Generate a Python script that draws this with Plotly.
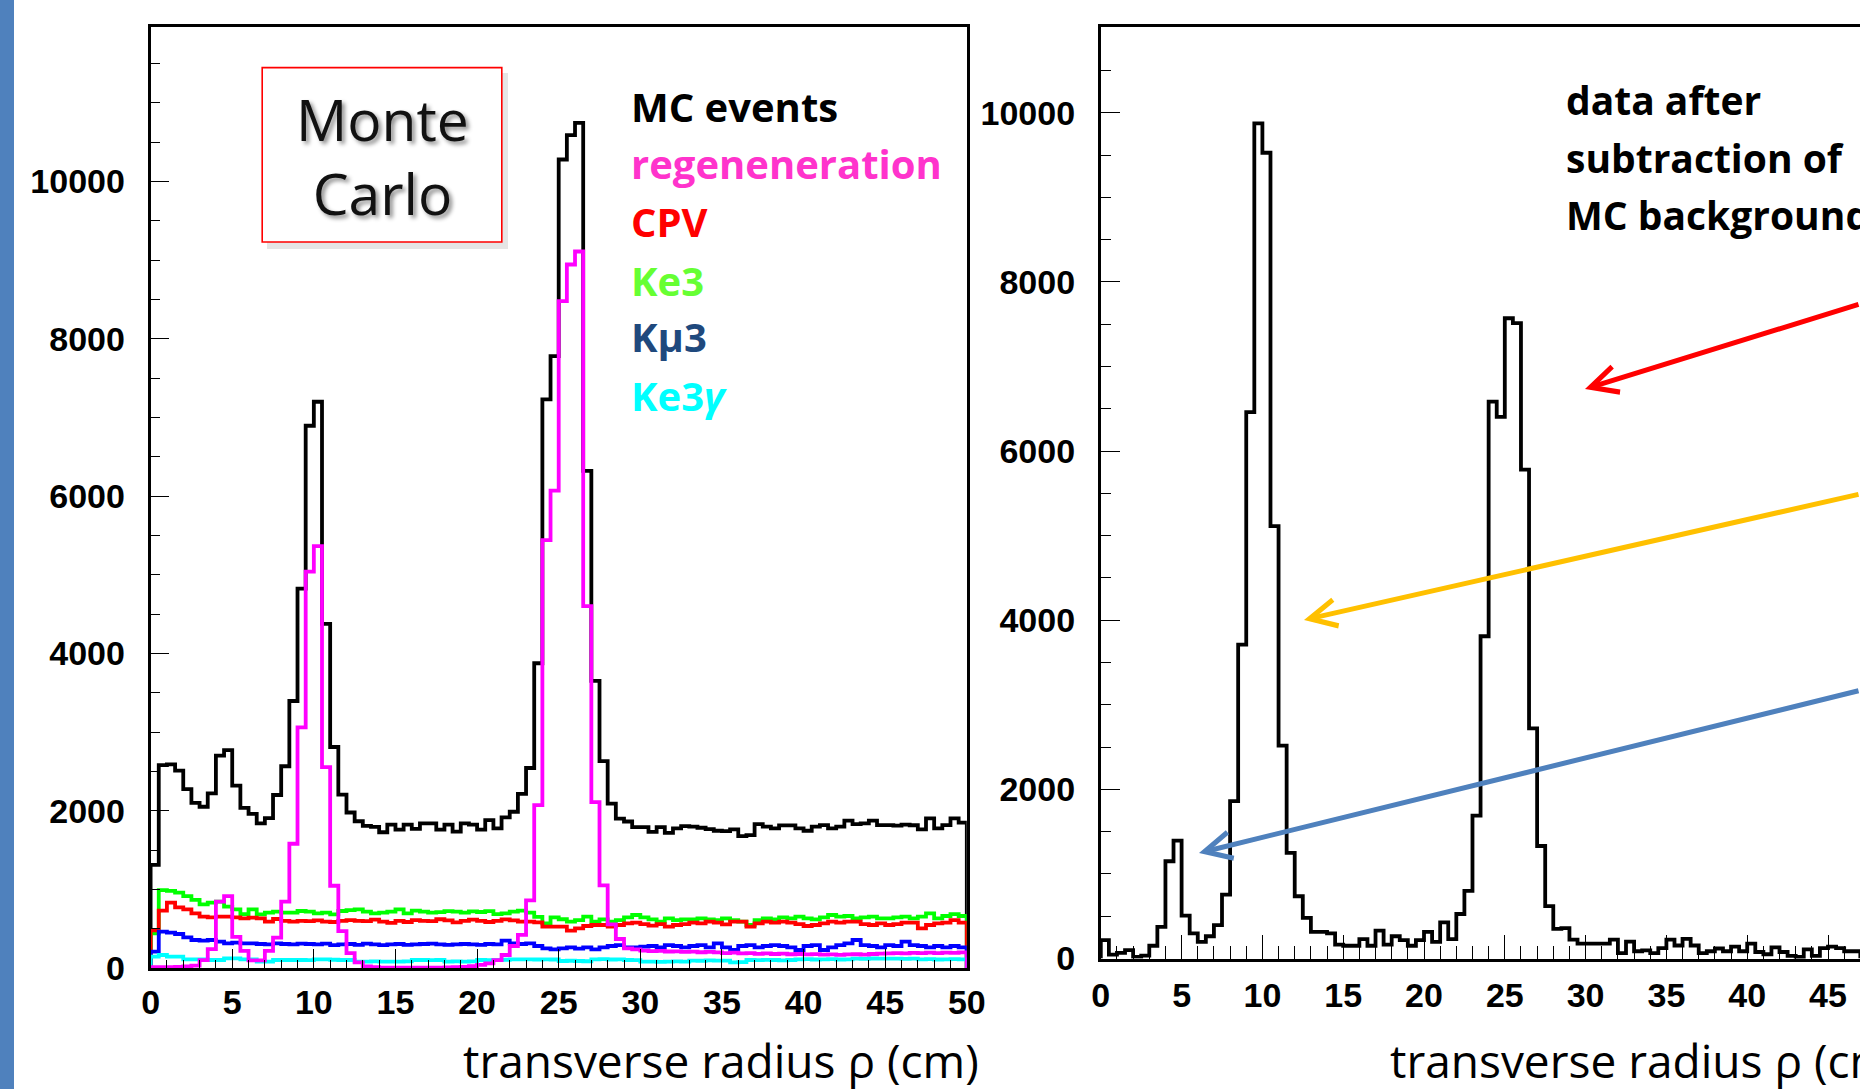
import plotly.graph_objects as go

W, H = 1860, 1089
BIN_WIDTH = 0.5

# ---------------- data (bin contents, 0.5 cm bins starting at 0) ----------------
mc_events = [1310, 2580, 2590, 2510, 2275, 2100, 2050, 2220, 2700, 2770,
             2320, 2035, 1960, 1840, 1905, 2200, 2565, 3395, 4825, 6895,
             7200, 4375, 2810, 2205, 1977, 1866, 1808, 1795, 1726, 1823,
             1760, 1823, 1770, 1840, 1840, 1760, 1823, 1735, 1840, 1823,
             1760, 1880, 1775, 1915, 1987, 2215, 2543, 3875, 7230, 7780,
             10280, 10590, 10745, 6320, 3650, 2630, 2090, 1900, 1863, 1790,
             1790, 1731, 1790, 1717, 1775, 1804, 1797, 1783, 1766, 1745,
             1740, 1762, 1677, 1690, 1830, 1797, 1775, 1813, 1813, 1775,
             1745, 1797, 1817, 1775, 1797, 1873, 1830, 1840, 1873, 1817,
             1817, 1810, 1822, 1815, 1762, 1903, 1775, 1817, 1903, 1848]

regeneration = [10, 10, 10, 15, 20, 30, 100, 240, 845, 915,
                395, 217, 96, 96, 217, 385, 845, 1580, 3060, 5040,
                5365, 2555, 1046, 470, 190, 72, 20, 10, 5, 5,
                5, 5, 5, 5, 5, 5, 8, 10, 15, 25,
                40, 60, 100, 165, 280, 420, 860, 2070, 5440, 6070,
                8480, 8945, 9110, 4600, 2110, 1050, 555, 369, 250, 237,
                220, 215, 218, 210, 212, 205, 208, 200, 205, 198,
                190, 195, 185, 188, 180, 185, 178, 182, 175, 178,
                172, 176, 170, 174, 168, 172, 175, 170, 178, 182,
                185, 190, 186, 192, 188, 195, 190, 196, 192, 198]

cpv = [480, 730, 830, 771, 745, 695, 653, 644, 653, 653,
       644, 631, 640, 631, 589, 623, 598, 589, 600, 595,
       605, 590, 585, 600, 610, 600, 595, 615, 590, 575,
       600, 585, 610, 600, 595, 620, 605, 580, 600, 615,
       600, 585, 600, 619, 605, 589, 589, 580, 525, 525,
       525, 475, 504, 534, 547, 547, 525, 547, 568, 576,
       559, 538, 559, 525, 547, 559, 576, 568, 589, 576,
       555, 589, 589, 525, 568, 589, 576, 589, 576, 559,
       534, 547, 568, 589, 576, 589, 589, 559, 547, 568,
       547, 559, 576, 576, 504, 547, 568, 576, 610, 576]

ke3 = [440, 990, 980, 958, 915, 865, 810, 830, 843, 780,
       745, 686, 745, 682, 703, 716, 703, 703, 725, 716,
       695, 703, 682, 725, 737, 745, 716, 695, 703, 716,
       745, 695, 729, 716, 703, 710, 722, 716, 705, 720,
       712, 722, 686, 695, 716, 729, 703, 650, 568, 644,
       620, 589, 610, 653, 589, 619, 589, 610, 644, 674,
       644, 619, 589, 631, 610, 619, 619, 631, 619, 610,
       631, 610, 589, 547, 610, 631, 619, 644, 631, 653,
       631, 619, 644, 674, 653, 661, 631, 644, 653, 631,
       631, 644, 653, 631, 653, 695, 631, 661, 686, 661]

kmu3 = [208, 462, 449, 432, 390, 356, 347, 356, 335, 314,
        322, 314, 314, 305, 300, 314, 305, 300, 310, 305,
        300, 310, 290, 300, 305, 295, 310, 300, 290, 300,
        305, 295, 300, 305, 310, 300, 295, 300, 305, 300,
        295, 305, 300, 347, 314, 305, 314, 280, 250, 237,
        250, 263, 246, 263, 237, 263, 280, 292, 263, 263,
        271, 280, 263, 292, 280, 263, 280, 292, 263, 314,
        263, 229, 280, 292, 263, 280, 292, 280, 263, 229,
        280, 292, 229, 263, 292, 314, 356, 292, 280, 263,
        292, 280, 335, 292, 280, 263, 280, 263, 280, 263]

ke3gamma = [144, 165, 144, 144, 110, 110, 110, 102, 102, 123,
            123, 110, 110, 80, 80, 102, 102, 102, 102, 100,
            110, 110, 105, 102, 102, 80, 80, 85, 80, 80,
            80, 85, 102, 102, 100, 102, 80, 85, 80, 85,
            102, 100, 102, 105, 110, 110, 110, 108, 110, 108,
            89, 92, 89, 86, 110, 112, 108, 110, 102, 100,
            80, 82, 78, 80, 84, 80, 95, 92, 96, 95,
            93, 72, 74, 102, 100, 104, 102, 98, 102, 110,
            112, 108, 110, 112, 108, 110, 119, 117, 121, 119,
            118, 120, 117, 119, 110, 112, 108, 110, 112, 110]

data_subtracted = [217, 46, 66, 99, 20, 33, 151, 375, 1150, 1393,
                   506, 296, 197, 263, 394, 756, 1860, 3712, 6459, 9875,
                   9527, 5112, 2516, 1248, 736, 480, 315, 315, 296, 164,
                   151, 151, 230, 151, 329, 164, 263, 217, 151, 217,
                   315, 197, 427, 230, 526, 800, 1690, 3810, 6585, 6404,
                   7570, 7512, 5780, 2720, 1330, 620, 350, 360, 222, 176,
                   176, 176, 176, 222, 63, 199, 86, 95, 63, 122,
                   222, 154, 231, 154, 63, 86, 118, 86, 140, 86,
                   176, 77, 50, 131, 77, 32, 18, 109, 32, 122,
                   140, 122, 86, 86]

left_xticks = [0, 5, 10, 15, 20, 25, 30, 35, 40, 45, 50]
y_ticks = [0, 2000, 4000, 6000, 8000, 10000]

legend_entries = [("MC events", "#000000"),
                  ("regeneneration", "#FF33CC"),
                  ("CPV", "#FF0000"),
                  ("Ke3", "#66FF33"),
                  ("Kμ3", "#1F497D"),
                  ("Ke3<i>γ</i>", "#00FFFF")]
right_text = ["data after", "subtraction of", "MC background"]
x_title = "transverse radius ρ (cm)"


def hist_xy(vals):
    edges = [i * BIN_WIDTH for i in range(len(vals) + 1)]
    x = [edges[0]] + edges[:-1] + [edges[-1]]
    y = [0] + list(vals) + [0]
    return x, y


def px(x):
    return x / W


def py(y):
    return 1 - y / H


fig = go.Figure()

left_series = [(mc_events, "#000000"), (ke3, "#00FF00"), (cpv, "#FF0000"),
               (kmu3, "#0000FF"), (ke3gamma, "#00FFFF"), (regeneration, "#FF00FF")]
for vals, col in left_series:
    x, y = hist_xy(vals)
    fig.add_trace(go.Scatter(x=x, y=y, mode="lines", line=dict(color=col, width=3.8, shape="hv"),
                             xaxis="x", yaxis="y", showlegend=False, hoverinfo="skip"))

x, y = hist_xy(data_subtracted)
fig.add_trace(go.Scatter(x=x, y=y, mode="lines", line=dict(color="#000000", width=3.8, shape="hv"),
                         xaxis="x2", yaxis="y2", showlegend=False, hoverinfo="skip"))

tickfont = dict(family="Liberation Sans", size=34, color="black", weight="bold")

common_x = dict(showgrid=False, zeroline=False, showline=True, linecolor="black", linewidth=2.8,
                mirror=True, ticks="inside", tickcolor="black", tickwidth=1.3, tickfont=tickfont,
                tickformat="d")
common_y = dict(showgrid=False, zeroline=False, showline=True, linecolor="black", linewidth=2.8,
                ticks="inside", tickcolor="black", tickwidth=1.3, tickfont=tickfont,
                tickformat="d", tickvals=y_ticks, ticklabelstandoff=16)

fig.update_layout(
    width=W, height=H,
    margin=dict(l=0, r=0, t=0, b=0, autoexpand=False),
    paper_bgcolor="white", plot_bgcolor="white",
    xaxis=dict(common_x, domain=[px(150.6), px(966.8)], range=[0, 50], anchor="y",
               tickvals=left_xticks, ticklen=19, ticklabelstandoff=2,
               minor=dict(dtick=1, ticks="inside", ticklen=8, tickcolor="black", tickwidth=1.3)),
    yaxis=dict(common_y, domain=[py(968.0), py(27.3)], range=[0, 11961], anchor="x", mirror=True,
               ticklen=18,
               minor=dict(dtick=500, ticks="inside", ticklen=9, tickcolor="black", tickwidth=1.3)),
    xaxis2=dict(common_x, domain=[px(1100.8), 1.0], range=[0, (W - 1100.8) / 16.16], anchor="y2",
                tickvals=left_xticks, ticklen=24, ticklabelstandoff=5,
                minor=dict(dtick=1, ticks="inside", ticklen=13, tickcolor="black", tickwidth=1.3)),
    yaxis2=dict(common_y, domain=[py(958.5), py(27.3)], range=[0, 11010], anchor="x2", mirror=False,
                ticklen=19,
                minor=dict(dtick=500, ticks="inside", ticklen=10, tickcolor="black", tickwidth=1.3)),
)

shapes = [
    # slide accent bar on the left edge
    dict(type="rect", xref="paper", yref="paper", x0=0, x1=px(14), y0=0, y1=1,
         fillcolor="#4F81BD", line=dict(width=0), layer="above"),
    # shadow of the Monte Carlo box
    dict(type="rect", xref="paper", yref="paper", x0=px(267), x1=px(508), y0=py(249), y1=py(73),
         fillcolor="rgba(0,0,0,0.10)", line=dict(width=0), layer="above"),
    dict(type="rect", xref="paper", yref="paper", x0=px(262.2), x1=px(501.8), y0=py(242), y1=py(67.6),
         fillcolor="white", line=dict(color="#FF0000", width=1.6), layer="above"),
]

annotations = [
    dict(text="Monte<br>Carlo", x=px(382), y=py(156), xref="paper", yref="paper",
         xanchor="center", yanchor="middle", showarrow=False,
         font=dict(family="Open Sans", size=57, color="#111111",
                   shadow="3px 3px 4px rgba(0,0,0,0.45)")),
]

legend_y = [106.8, 163.7, 221.8, 280.0, 336.9, 395.0]
for (txt, col), yy in zip(legend_entries, legend_y):
    annotations.append(dict(text=txt, x=px(628.7), y=py(yy), xref="paper", yref="paper",
                            xanchor="left", yanchor="middle", showarrow=False,
                            font=dict(family="Open Sans", size=40, color=col, weight="bold")))

for txt, yy in zip(right_text, [99.6, 157.8, 214.7]):
    annotations.append(dict(text=txt, x=px(1563.5), y=py(yy), xref="paper", yref="paper",
                            xanchor="left", yanchor="middle", showarrow=False,
                            font=dict(family="Open Sans", size=39, color="black", weight="bold")))

annotations.append(dict(text=x_title, x=px(981), y=py(1060), xref="paper", yref="paper",
                        xanchor="right", yanchor="middle", showarrow=False,
                        font=dict(family="Open Sans", size=46, color="black")))
annotations.append(dict(text=x_title, x=px(1388), y=py(1060), xref="paper", yref="paper",
                        xanchor="left", yanchor="middle", showarrow=False,
                        font=dict(family="Open Sans", size=46, color="black")))

# arrows pointing into the right panel (heads inside, tails beyond the slide edge)
arrows = [((1585, 389), "#FF0000", -0.205),
          ((1304, 620), "#FFC000", -0.181),
          ((1199, 853), "#4F81BD", -0.203)]
for (hx, hy), col, slope in arrows:
    dx = 2000 - hx
    annotations.append(dict(text="", x=px(hx), y=py(hy), xref="paper", yref="paper",
                            ax=dx, ay=slope * dx, axref="pixel", ayref="pixel",
                            showarrow=True, arrowhead=5, arrowsize=1.05, arrowwidth=5,
                            arrowcolor=col))

fig.update_layout(shapes=shapes, annotations=annotations)

fig.write_html("out.html", config={"displayModeBar": False},
               post_script="document.body.style.margin='0';document.body.style.overflow='hidden';")
